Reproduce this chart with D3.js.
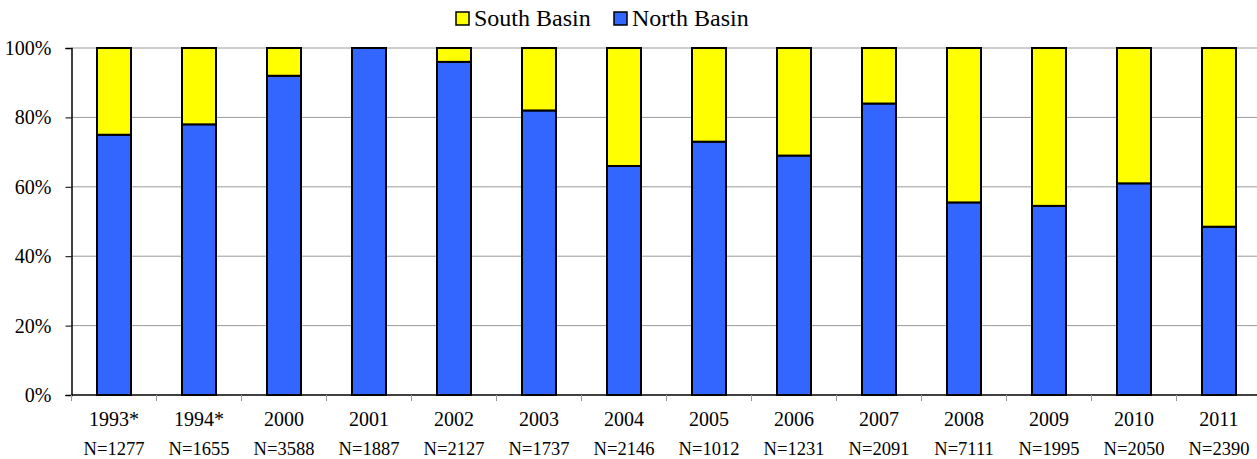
<!DOCTYPE html>
<html>
<head>
<meta charset="utf-8">
<script src="https://cdn.jsdelivr.net/npm/d3@7"></script>
<style>
  html, body { margin: 0; padding: 0; background: #fff; }
  svg { display: block; }
</style>
</head>
<body>
<div id="chart"></div>
<script>
// ---- data ----
const years = ['1993*', '1994*', '2000', '2001', '2002', '2003', '2004', '2005', '2006', '2007', '2008', '2009', '2010', '2011'];
const sampleN = [1277, 1655, 3588, 1887, 2127, 1737, 2146, 1012, 1231, 2091, 7111, 1995, 2050, 2390];
const northPct = [75, 78, 92, 100, 96, 82, 66, 73, 69, 84, 55.5, 54.5, 61, 48.5];
const southPct = northPct.map(v => 100 - v);
const yTicks = [0, 20, 40, 60, 80, 100];

const seriesNames = ['North Basin', 'South Basin'];
const colors = { 'North Basin': '#3366FF', 'South Basin': '#FFFF00' };

(function () {
  const W = 1257, H = 459;
  const left = 71.5, top = 48, bottom = 395;
  const step = 85;
  const FONT = 'Liberation Serif, Times New Roman, serif';

  const svg = d3.select('#chart').append('svg')
    .attr('width', W).attr('height', H)
    .attr('font-family', FONT);

  const x = d3.scaleBand()
    .domain(years)
    .range([left, left + years.length * step])
    .paddingInner(0.6)
    .paddingOuter(0.3);

  const y = d3.scaleLinear().domain([0, 100]).range([bottom, top]);

  // gridlines
  svg.append('g').selectAll('line')
    .data(yTicks.filter(t => t > 0))
    .join('line')
    .attr('x1', left).attr('x2', W)
    .attr('y1', d => y(d)).attr('y2', d => y(d))
    .attr('stroke', '#9a9a9a')
    .attr('stroke-width', 1);

  // stacked bars
  const rows = years.map((yr, i) => ({ year: yr, 'North Basin': northPct[i], 'South Basin': southPct[i] }));
  const stacked = d3.stack().keys(seriesNames)(rows);

  svg.append('g').selectAll('g')
    .data(stacked)
    .join('g')
    .attr('fill', d => colors[d.key])
    .selectAll('rect')
    .data(d => d.filter(s => s[1] - s[0] > 0))
    .join('rect')
    .attr('x', d => x(d.data.year))
    .attr('width', x.bandwidth())
    .attr('y', d => y(d[1]))
    .attr('height', d => y(d[0]) - y(d[1]))
    .attr('stroke', '#000')
    .attr('stroke-width', 2);

  // y axis
  const yAxis = svg.append('g')
    .attr('transform', `translate(${left},0)`)
    .call(d3.axisLeft(y).tickValues(yTicks).tickFormat(d => d + '%').tickSize(6).tickPadding(14));
  yAxis.attr('font-family', FONT).attr('font-size', 20);
  yAxis.select('.domain').attr('stroke', '#000').attr('stroke-width', 1.5);
  yAxis.selectAll('.tick line').attr('stroke', '#000');
  yAxis.selectAll('.tick text').attr('fill', '#000');

  // x axis baseline
  svg.append('line')
    .attr('x1', left).attr('x2', W)
    .attr('y1', bottom).attr('y2', bottom)
    .attr('stroke', '#000').attr('stroke-width', 1.5);

  // x tick marks between categories
  const gap = (x.step() - x.bandwidth()) / 2;
  const tickXs = years.map(yr => x(yr) - gap).concat([x(years[years.length - 1]) + x.bandwidth() + gap]);
  svg.append('g').selectAll('line')
    .data(tickXs)
    .join('line')
    .attr('x1', d => d).attr('x2', d => d)
    .attr('y1', bottom).attr('y2', bottom + 6)
    .attr('stroke', '#999').attr('stroke-width', 1);

  // category labels
  const cats = svg.append('g').attr('text-anchor', 'middle').attr('fill', '#000');
  cats.selectAll('text.yr')
    .data(years)
    .join('text')
    .attr('class', 'yr')
    .attr('x', d => x(d) + x.bandwidth() / 2)
    .attr('y', 426)
    .attr('font-size', 20)
    .text(d => d);
  cats.selectAll('text.n')
    .data(years)
    .join('text')
    .attr('class', 'n')
    .attr('x', d => x(d) + x.bandwidth() / 2)
    .attr('y', 455)
    .attr('font-size', 18.5)
    .text((d, i) => 'N=' + sampleN[i]);

  // legend
  const legendItems = ['South Basin', 'North Basin'];
  const legendX = [456, 614];
  const lg = svg.append('g');
  const item = lg.selectAll('g')
    .data(legendItems)
    .join('g')
    .attr('transform', (d, i) => `translate(${legendX[i]},12)`);
  item.append('rect')
    .attr('width', 13).attr('height', 13)
    .attr('fill', d => colors[d])
    .attr('stroke', '#000').attr('stroke-width', 1.5);
  item.append('text')
    .attr('x', 18).attr('y', 14)
    .attr('font-size', 24)
    .attr('fill', '#000')
    .text(d => d);
})();
</script>
</body>
</html>
